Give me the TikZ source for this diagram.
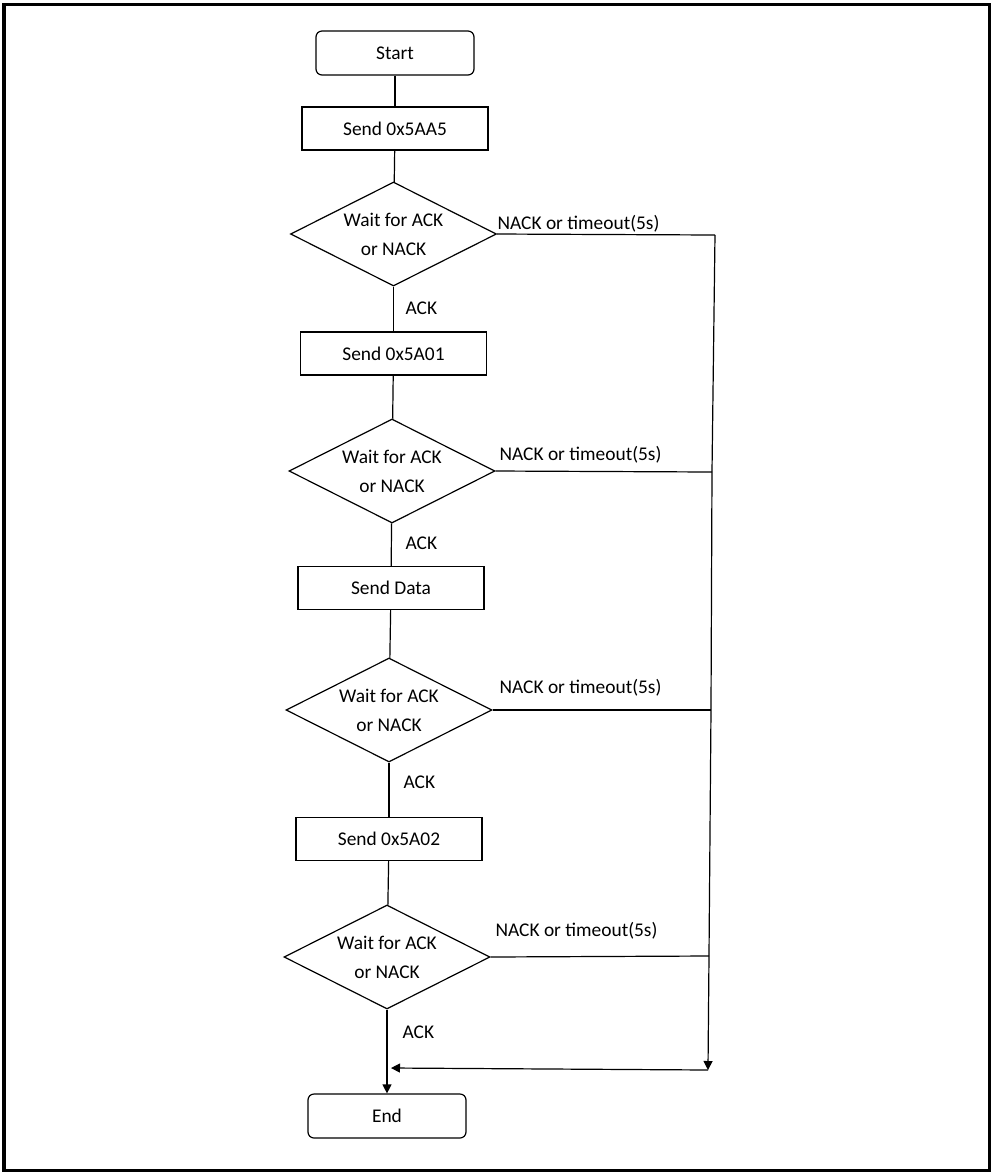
\documentclass[tikz,border=0pt]{standalone}
\usepackage{fontspec}
\setmainfont{Carlito}
\usetikzlibrary{arrows.meta,positioning,shapes.geometric}

\begin{document}
\begin{tikzpicture}[x=0.5pt, y=-0.5pt, line width=0.6pt,
    font=\fontsize{9.7}{14.5}\selectfont,
    terminal/.style={draw, rounded corners=3pt, minimum width=79pt, minimum height=22pt, inner sep=0pt},
    process/.style={draw, minimum width=93pt, minimum height=21.5pt, inner sep=0pt},
    decision/.style={draw, diamond, aspect=2, align=center, minimum width=103pt, minimum height=52pt, inner sep=0pt},
    lbl/.style={anchor=west, inner sep=0pt},
    arr/.style={-{Triangle[length=4.5pt, width=4.5pt]}}]
  \useasboundingbox (0,0) rectangle (993,1175);
  \draw[line width=1.5pt] (4,4) rectangle (989.5,1170);

  \node[terminal] (start) at (395,53) {Start};
  \node[process] (send1) at (395,128.5) {Send 0x5AA5};
  \node[decision] (wait1) at (393.5,234) {Wait for ACK\\or NACK};
  \node[process] (send2) at (393.5,353.5) {Send 0x5A01};
  \node[decision] (wait2) at (392,471) {Wait for ACK\\or NACK};
  \node[process] (send3) at (391,588) {Send Data};
  \node[decision] (wait3) at (389,710) {Wait for ACK\\or NACK};
  \node[process] (send4) at (389,839) {Send 0x5A02};
  \node[decision] (wait4) at (387,957) {Wait for ACK\\or NACK};
  \node[terminal] (end) at (387,1116) {End};

  \coordinate (r1) at (715,235);
  \coordinate (r2) at (712,472);
  \coordinate (r3) at (711,710);
  \coordinate (r4) at (709,956);
  \coordinate (rb) at (708,1070);
  \coordinate (join) at (391,1068);

  \node[lbl] (nack1) at (497,224) {NACK or timeout(5s)};
  \node[lbl] (nack2) at (499,455) {NACK or timeout(5s)};
  \node[lbl] (nack3) at (499,688) {NACK or timeout(5s)};
  \node[lbl] (nack4) at (495,931) {NACK or timeout(5s)};
  \node[lbl] (ack1) at (405,308) {ACK};
  \node[lbl] (ack2) at (405,543) {ACK};
  \node[lbl] (ack3) at (403,782) {ACK};
  \node[lbl] (ack4) at (402,1032) {ACK};

  \draw (start) -- (send1);
  \draw (send1) -- (wait1);
  \draw (wait1) -- (send2);
  \draw (send2) -- (wait2);
  \draw (wait2) -- (send3);
  \draw (send3) -- (wait3);
  \draw (wait3) -- (send4);
  \draw (send4) -- (wait4);
  \draw[arr] (wait4) -- (end);

  \draw (wait1.east) -- (r1);
  \draw (wait2.east) -- (r2);
  \draw (wait3.east) -- (r3);
  \draw (wait4.east) -- (r4);
  \draw[arr] (r1) -- (r2) -- (r3) -- (r4) -- (rb);
  \draw[arr] (rb) -- (join);
\end{tikzpicture}
\end{document}
